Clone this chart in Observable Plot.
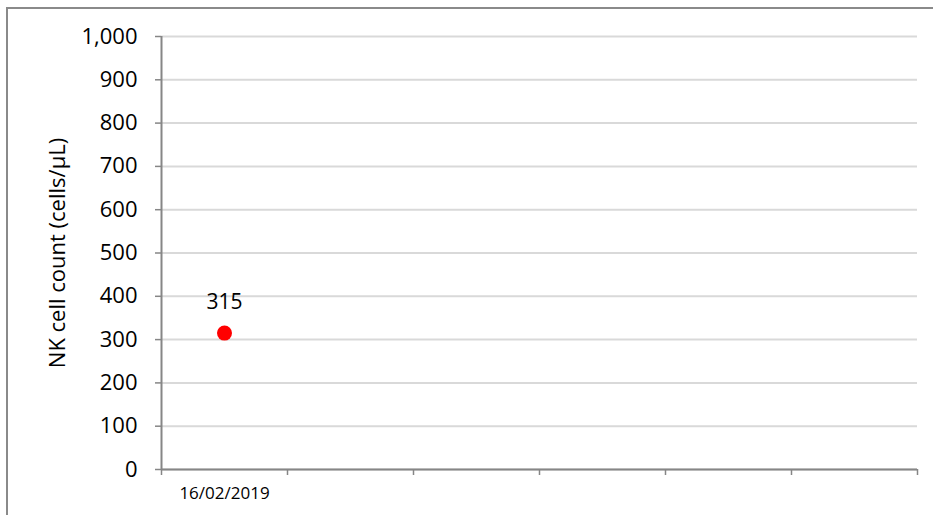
<!DOCTYPE html>
<html>
<head>
<meta charset="utf-8">
<script src="https://cdn.jsdelivr.net/npm/d3@7"></script>
<script src="https://cdn.jsdelivr.net/npm/@observablehq/plot@0.6"></script>
<style>
  html, body { margin: 0; padding: 0; background: #fff; overflow: hidden; }
  #wrap { position: relative; width: 933px; height: 515px; }
  #border { position: absolute; left: 6px; top: 7px; width: 1000px; height: 1000px; border: 2px solid #8a8a8a; box-sizing: border-box; }
  #chart { position: absolute; left: 0; top: 0; }
</style>
</head>
<body>
<div id="wrap"><div id="border"></div><div id="chart"></div></div>
<script>
const categories = ["16/02/2019", "", "", "", "", ""];
const values = [315, null, null, null, null, null];
const yTicks = [0, 100, 200, 300, 400, 500, 600, 700, 800, 900, 1000];
const yLabel = "NK cell count (cells/µL)";

const points = categories.map((c, i) => ({i, c, v: values[i]})).filter(d => d.v != null);
const bounds = d3.range(categories.length + 1);

const chart = Plot.plot({
  width: 933,
  height: 515,
  marginLeft: 161,
  marginRight: 16,
  marginTop: 36,
  marginBottom: 46,
  style: {fontFamily: "'Open Sans', sans-serif", background: "transparent", color: "#000"},
  x: {domain: [0, categories.length], axis: null},
  y: {domain: [0, 1000], axis: null},
  marks: [
    Plot.gridY(yTicks, {stroke: "#d9d9d9", strokeOpacity: 1, strokeWidth: 2}),
    Plot.axisY({ticks: yTicks, tickFormat: d3.format(","), tickSize: 6, tickPadding: 18, fontSize: 22, stroke: "#868686", strokeWidth: 1.5, label: null}),
    Plot.axisX({ticks: bounds, tickFormat: () => "", tickSize: 6, stroke: "#868686", strokeWidth: 1.5, label: null}),
    Plot.ruleY([0], {stroke: "#868686", strokeWidth: 2}),
    Plot.ruleX([0], {stroke: "#868686", strokeWidth: 2}),
    Plot.text(categories, {x: (d, i) => i + 0.5, text: d => d, frameAnchor: "bottom", dy: 24, lineAnchor: "middle", fontSize: 17}),
    Plot.text([yLabel], {frameAnchor: "left", dx: -104, rotate: -90, textAnchor: "middle", lineAnchor: "middle", fontSize: 22}),
    Plot.dot(points, {x: d => d.i + 0.5, y: "v", r: 7.5, fill: "#ff0000", stroke: "none"}),
    Plot.text(points, {x: d => d.i + 0.5, y: "v", text: d => String(d.v), dy: -31, lineAnchor: "middle", fontSize: 21})
  ]
});
document.getElementById("chart").appendChild(chart);
</script>
</body>
</html>
